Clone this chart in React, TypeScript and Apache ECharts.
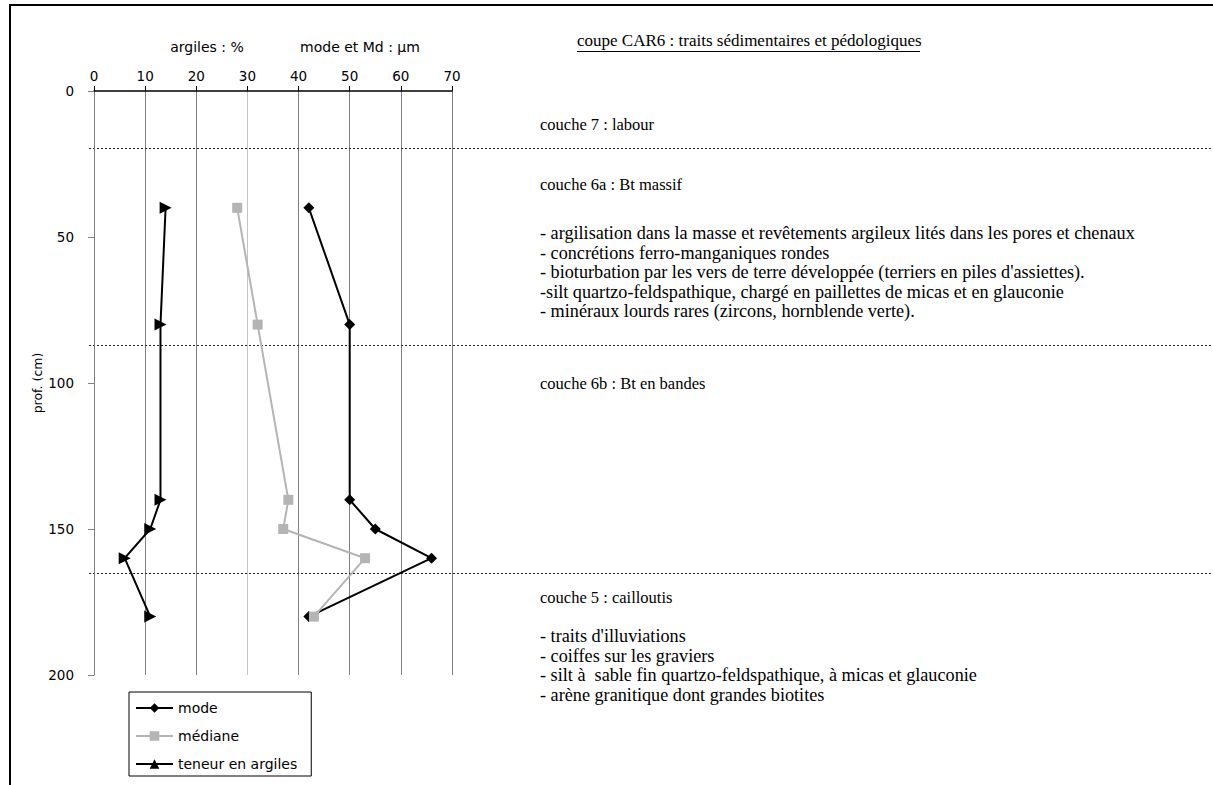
import React, { useEffect, useRef } from "react";
import * as echarts from "echarts";

// ---- data ----
const depths = [40, 80, 140, 150, 160, 180];
const modeValues = [42, 50, 50, 55, 66, 42];
const medianValues = [28, 32, 38, 37, 53, 43];
const clayValues = [14, 13, 13, 11, 6, 11];
const layerBoundaries = [19.5, 87, 165];
const seriesNames = ["mode", "médiane", "teneur en argiles"];
const unitLabels = ["argiles : %", "mode et Md : µm"];
const yAxisName = "prof. (cm)";
const titleText = "coupe CAR6 : traits sédimentaires et pédologiques";
const layer7 = ["couche 7 : labour"];
const layer6a = [
  "couche 6a : Bt massif",
  "- argilisation dans la masse et revêtements argileux lités dans les pores et chenaux",
  "- concrétions ferro-manganiques rondes",
  "- bioturbation par les vers de terre développée (terriers en piles d'assiettes).",
  "-silt quartzo-feldspathique, chargé en paillettes de micas et en glauconie",
  "- minéraux lourds rares (zircons, hornblende verte).",
];
const layer6b = ["couche 6b : Bt en bandes"];
const layer5 = [
  "couche 5 : cailloutis",
  "- traits d'illuviations",
  "- coiffes sur les graviers",
  "- silt à  sable fin quartzo-feldspathique, à micas et glauconie",
  "- arène granitique dont grandes biotites",
];

const FONT_SANS = '"DejaVu Sans", "Noto Sans", sans-serif';
const FONT_SERIF = '"Liberation Serif", "Times New Roman", serif';

export default function App() {
  const ref = useRef<HTMLDivElement>(null);

  useEffect(() => {
    if (!ref.current) return;
    const chart = echarts.init(ref.current, undefined, { renderer: "svg" });

    const toPairs = (vals: number[]) => depths.map((d, i) => [vals[i], d]);

    chart.setOption({
      animation: false,
      backgroundColor: "#fff",
      grid: { left: 94, top: 91, width: 358, height: 584, containLabel: false },
      xAxis: {
        type: "value",
        position: "top",
        min: 0,
        max: 70,
        interval: 10,
        axisLine: { show: true, onZero: false, lineStyle: { color: "#000", width: 1.5 } },
        axisTick: { show: true, length: 5, lineStyle: { color: "#000" } },
        axisLabel: { color: "#000", fontSize: 13.5, margin: 8, fontFamily: FONT_SANS },
        splitLine: {
          show: true,
          lineStyle: {
            color: ["#808080", "#808080", "#808080", "#c4c4c4", "#808080", "#808080", "#808080", "#808080"],
            width: 1,
          },
        },
      },
      yAxis: {
        type: "value",
        inverse: true,
        min: 0,
        max: 200,
        interval: 50,
        name: yAxisName,
        nameLocation: "middle",
        nameGap: 49,
        nameTextStyle: { color: "#000", fontSize: 12.5, fontFamily: FONT_SANS },
        axisLine: { show: true, onZero: false, lineStyle: { color: "#808080", width: 1 } },
        axisTick: { show: true, length: 6, lineStyle: { color: "#808080" } },
        axisLabel: { color: "#000", fontSize: 13.5, margin: 20, fontFamily: FONT_SANS },
        splitLine: { show: false },
      },
      legend: {
        orient: "vertical",
        left: 129,
        top: 692,
        padding: [9, 14, 5, 6],
        itemGap: 14,
        itemWidth: 37,
        itemHeight: 12,
        borderColor: "#000",
        borderWidth: 1,
        borderRadius: 0,
        backgroundColor: "#fff",
        symbolRotate: 0,
        textStyle: { color: "#000", fontSize: 14, fontFamily: FONT_SANS },
        data: seriesNames,
      },
      series: [
        {
          name: seriesNames[0],
          type: "line",
          data: toPairs(modeValues),
          symbol: "diamond",
          symbolSize: 11,
          color: "#000",
          lineStyle: { color: "#000", width: 2 },
          itemStyle: { color: "#000" },
          z: 3,
        },
        {
          name: seriesNames[1],
          type: "line",
          data: toPairs(medianValues),
          symbol: "rect",
          symbolSize: 10,
          color: "#b4b4b4",
          lineStyle: { color: "#b4b4b4", width: 2 },
          itemStyle: { color: "#b4b4b4" },
          z: 4,
        },
        {
          name: seriesNames[2],
          type: "line",
          data: toPairs(clayValues),
          symbol: "triangle",
          symbolSize: 12,
          symbolRotate: -90,
          color: "#000",
          lineStyle: { color: "#000", width: 2 },
          itemStyle: { color: "#000" },
          z: 5,
        },
      ],
    });

    const graphics: any[] = [];
    // page frame
    graphics.push({
      type: "rect",
      silent: true,
      shape: { x: 10, y: 5, width: 1240, height: 820 },
      style: { fill: "none", stroke: "#000", lineWidth: 2 },
    });
    // layer boundaries (dotted), positioned via the y axis scale
    layerBoundaries.forEach((d) => {
      const y = Math.round(chart.convertToPixel({ yAxisIndex: 0 }, d) as number) + 0.5;
      graphics.push({
        type: "line",
        silent: true,
        shape: { x1: 89, y1: y, x2: 1213, y2: y },
        style: { stroke: "#222", lineWidth: 1.2, lineDash: [2, 2] },
      });
    });
    // unit labels above the x axis
    graphics.push({
      type: "text",
      x: 207,
      y: 47,
      style: { text: unitLabels[0], fontSize: 14, fontFamily: FONT_SANS, fill: "#000", align: "center", verticalAlign: "middle" },
    });
    graphics.push({
      type: "text",
      x: 360,
      y: 47,
      style: { text: unitLabels[1], fontSize: 14, fontFamily: FONT_SANS, fill: "#000", align: "center", verticalAlign: "middle" },
    });
    // title + underline
    graphics.push({
      type: "text",
      x: 577,
      y: 40,
      style: { text: titleText, fontSize: 17, fontFamily: FONT_SERIF, fill: "#000", align: "left", verticalAlign: "middle" },
    });
    graphics.push({
      type: "line",
      silent: true,
      shape: { x1: 577, y1: 51.5, x2: 920, y2: 51.5 },
      style: { stroke: "#000", lineWidth: 1 },
    });
    const addLines = (lines: string[], ys: number[]) => {
      lines.forEach((t, i) => {
        graphics.push({
          type: "text",
          x: 540,
          y: ys[i],
          style: {
            text: t,
            fontSize: i === 0 ? 16.5 : 18.2,
            fontFamily: FONT_SERIF,
            fill: "#000",
            align: "left",
            verticalAlign: "middle",
          },
        });
      });
    };
    addLines(layer7, [124]);
    addLines(layer6a, [184, 233, 252.5, 272, 291.5, 311]);
    addLines(layer6b, [383]);
    addLines(layer5, [597, 636, 655.5, 675, 694.5]);

    chart.setOption({ graphic: graphics });

    return () => chart.dispose();
  }, []);

  return (
    <div
      ref={ref}
      style={{ position: "absolute", left: 0, top: 0, width: 1213, height: 785 }}
    />
  );
}
